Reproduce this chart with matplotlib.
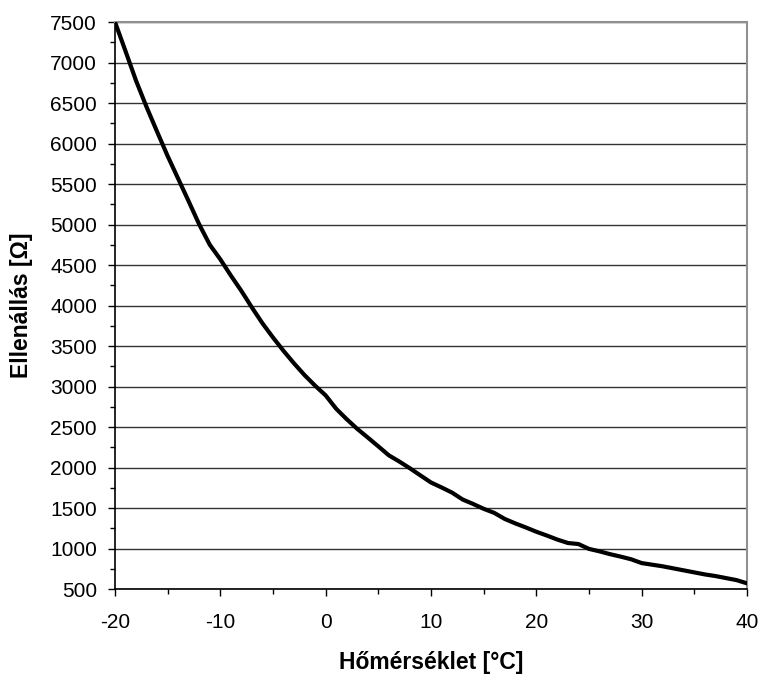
import matplotlib
matplotlib.use("Agg")
import matplotlib.pyplot as plt
from matplotlib.ticker import MultipleLocator

plt.rcParams['font.family'] = ['Liberation Sans', 'DejaVu Sans']
plt.rcParams['axes.unicode_minus'] = False

# temperature [°C] and resistance [Ohm]
temperature = list(range(-20, 41))
resistance = [7500, 7140, 6775, 6450, 6145, 5845, 5565, 5285, 5000, 4750,
              4570, 4370, 4180, 3975, 3780, 3605, 3440, 3285, 3140, 3010,
              2890, 2725, 2596, 2477, 2370, 2261, 2150, 2073, 1990, 1902,
              1815, 1754, 1690, 1605, 1550, 1490, 1440, 1365, 1310, 1260,
              1207, 1160, 1110, 1068, 1055, 995, 965, 930, 900, 867,
              820, 800, 780, 755, 730, 705, 680, 660, 635, 610,
              570]

xLabel = "Hőmérséklet [°C]"
yLabel = "Ellenállás [Ω]"

fig = plt.figure(figsize=(7.6, 6.75), dpi=100)
ax = fig.add_axes([0.1513, 0.1274, 0.8316, 0.8400])

ax.plot(temperature, resistance, color='black', linewidth=3.0, solid_joinstyle='round', zorder=3)

ax.set_xlim(-20, 40)
ax.set_ylim(500, 7500)
ax.xaxis.set_major_locator(MultipleLocator(10))
ax.xaxis.set_minor_locator(MultipleLocator(5))
ax.yaxis.set_major_locator(MultipleLocator(500))
ax.yaxis.set_minor_locator(MultipleLocator(250))

ax.grid(True, axis='y', which='major', color='#333333', linewidth=1.0)
ax.set_axisbelow(True)

ax.tick_params(which='major', direction='out', length=5, width=1, labelsize=15, color='black')
ax.tick_params(which='minor', direction='out', length=3.5, width=1, color='black')
ax.tick_params(axis='y', pad=8)
ax.tick_params(axis='x', pad=12)

for side in ['top', 'right']:
    ax.spines[side].set_color('#909090')
    ax.spines[side].set_linewidth(1.5)
for side in ['left', 'bottom']:
    ax.spines[side].set_color('black')
    ax.spines[side].set_linewidth(1.2)

ax.set_xlabel(xLabel, fontsize=16.5, fontweight='bold', labelpad=14)
ax.set_ylabel(yLabel, fontsize=16.5, fontweight='bold', labelpad=12)

plt.savefig("out.png", dpi=100)
